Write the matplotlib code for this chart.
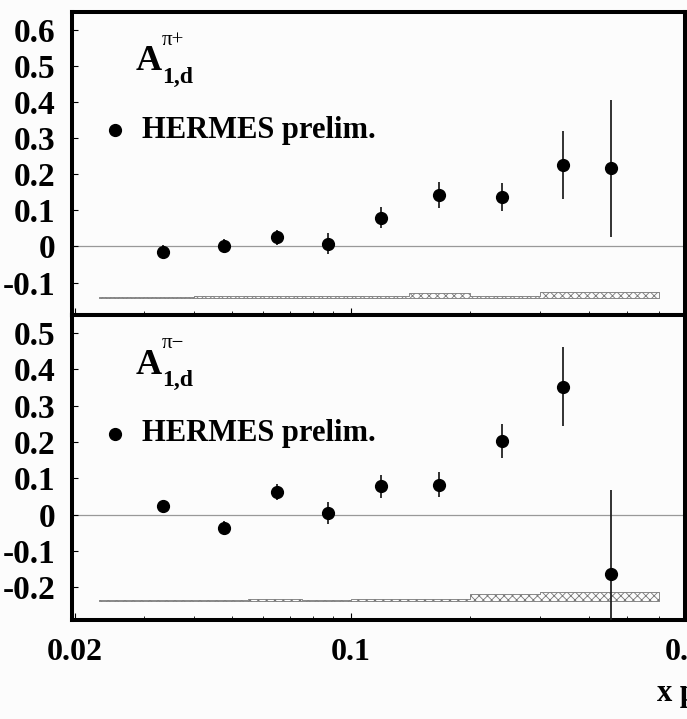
import numpy as np
import matplotlib
matplotlib.use("Agg")
import matplotlib.pyplot as plt
from matplotlib.ticker import FixedLocator, NullFormatter

plt.rcParams['hatch.linewidth'] = 0.6

# x bin centres and bin edges (same binning for both pion charges)
x_vals = [0.0335, 0.0477, 0.0649, 0.0873, 0.119, 0.167, 0.241, 0.343, 0.456]
bin_edges = [0.023, 0.04, 0.055, 0.075, 0.1, 0.14, 0.2, 0.3, 0.4, 0.6]

# pi+ asymmetry
a_pip = [-0.014, 0.002, 0.025, 0.008, 0.080, 0.143, 0.137, 0.225, 0.217]
a_pip_err = [0.018, 0.020, 0.022, 0.030, 0.030, 0.035, 0.040, 0.094, 0.190]
a_pip_sys = [0.002, 0.006, 0.006, 0.006, 0.007, 0.013, 0.007, 0.018, 0.018]

# pi- asymmetry
a_pim = [0.024, -0.036, 0.063, 0.005, 0.078, 0.083, 0.203, 0.353, -0.163]
a_pim_err = [0.016, 0.020, 0.022, 0.030, 0.032, 0.035, 0.048, 0.110, 0.230]
a_pim_sys = [0.002, 0.002, 0.006, 0.002, 0.006, 0.006, 0.019, 0.024, 0.024]

top_yticks = [0.6, 0.5, 0.4, 0.3, 0.2, 0.1, 0, -0.1]
bot_yticks = [0.5, 0.4, 0.3, 0.2, 0.1, 0, -0.1, -0.2]
x_major = [0.02, 0.1, 0.7]
x_minor = [0.03, 0.04, 0.05, 0.06, 0.07, 0.08, 0.09, 0.2, 0.3, 0.4, 0.5, 0.6]

serif = ['Liberation Serif', 'DejaVu Serif']

W, H = 687, 719
fig = plt.figure(figsize=(W / 100, H / 100), dpi=100)
fig.patch.set_facecolor('#fcfcfc')

left, right = 72 / W, 685 / W
ax_top = fig.add_axes([left, 1 - 315 / H, right - left, 303 / H])
ax_bot = fig.add_axes([left, 1 - 620 / H, right - left, 305 / H])


def ylab(v):
    if v == 0:
        return '0'
    return ('%.1f' % v)


def draw_panel(ax, y, yerr, sys, base, ylim, yticks, charge):
    ax.set_facecolor('#fcfcfc')
    ax.set_xscale('log')
    ax.set_xlim(0.0197, 0.70)
    ax.set_ylim(*ylim)
    ax.axhline(0, color='#999999', lw=0.9, zorder=1)

    # systematic band
    lo = [base] * (len(sys) + 1)
    hi = [base + s for s in sys] + [base + sys[-1]]
    ax.fill_between(bin_edges, lo, hi, step='post', facecolor='none',
                    edgecolor='#777777', hatch='xxxx', lw=0.6, zorder=2)

    ax.errorbar(x_vals, y, yerr=yerr, fmt='o', color='black', ms=8.5,
                ecolor='#222222', elinewidth=1.3, capsize=0, zorder=3)

    for s in ax.spines.values():
        s.set_linewidth(2.9)
        s.set_color('black')

    ax.yaxis.set_major_locator(FixedLocator(yticks))
    ax.set_yticklabels([ylab(v) for v in yticks], family=serif,
                       fontweight='bold', fontsize=24)
    ax.xaxis.set_major_locator(FixedLocator(x_major))
    ax.xaxis.set_minor_locator(FixedLocator(x_minor))
    ax.xaxis.set_minor_formatter(NullFormatter())
    ax.tick_params(axis='y', direction='in', length=4.5, width=0.8, pad=12,
                   left=True, right=False)
    ax.tick_params(axis='x', which='major', direction='in', length=5,
                   width=0.8, pad=13, top=False)
    ax.tick_params(axis='x', which='minor', direction='in', length=3,
                   width=0.6, top=False)

    # observable label
    ax.text(0.103, 0.835, 'A', transform=ax.transAxes, family=serif,
            fontweight='bold', fontsize=26, va='center', ha='left')
    ax.text(0.147, 0.785, '1,d', transform=ax.transAxes, family=serif,
            fontweight='bold', fontsize=17, va='center', ha='left')
    ax.text(0.147, 0.905, charge, transform=ax.transAxes, family=serif,
            fontsize=15, va='center', ha='left')

    # legend
    ax.plot([0.07], [0.61], 'o', color='black', ms=8.5, transform=ax.transAxes)
    ax.text(0.115, 0.61, 'HERMES prelim.', transform=ax.transAxes,
            family=serif, fontweight='bold', fontsize=22, va='center',
            ha='left')


draw_panel(ax_top, a_pip, a_pip_err, a_pip_sys, -0.143, (-0.19, 0.65),
           top_yticks, 'π+')
draw_panel(ax_bot, a_pim, a_pim_err, a_pim_sys, -0.238, (-0.29, 0.55),
           bot_yticks, 'π−')

ax_top.set_xticklabels([])
ax_bot.set_xticklabels(['0.02', '0.1', '0.7'], family=serif,
                       fontweight='bold', fontsize=23)

fig.text(657 / W, 1 - 693 / H, 'x p', family=serif, fontweight='bold',
         fontsize=22, va='center', ha='left')

fig.savefig('out.png', dpi=100, facecolor=fig.get_facecolor())
